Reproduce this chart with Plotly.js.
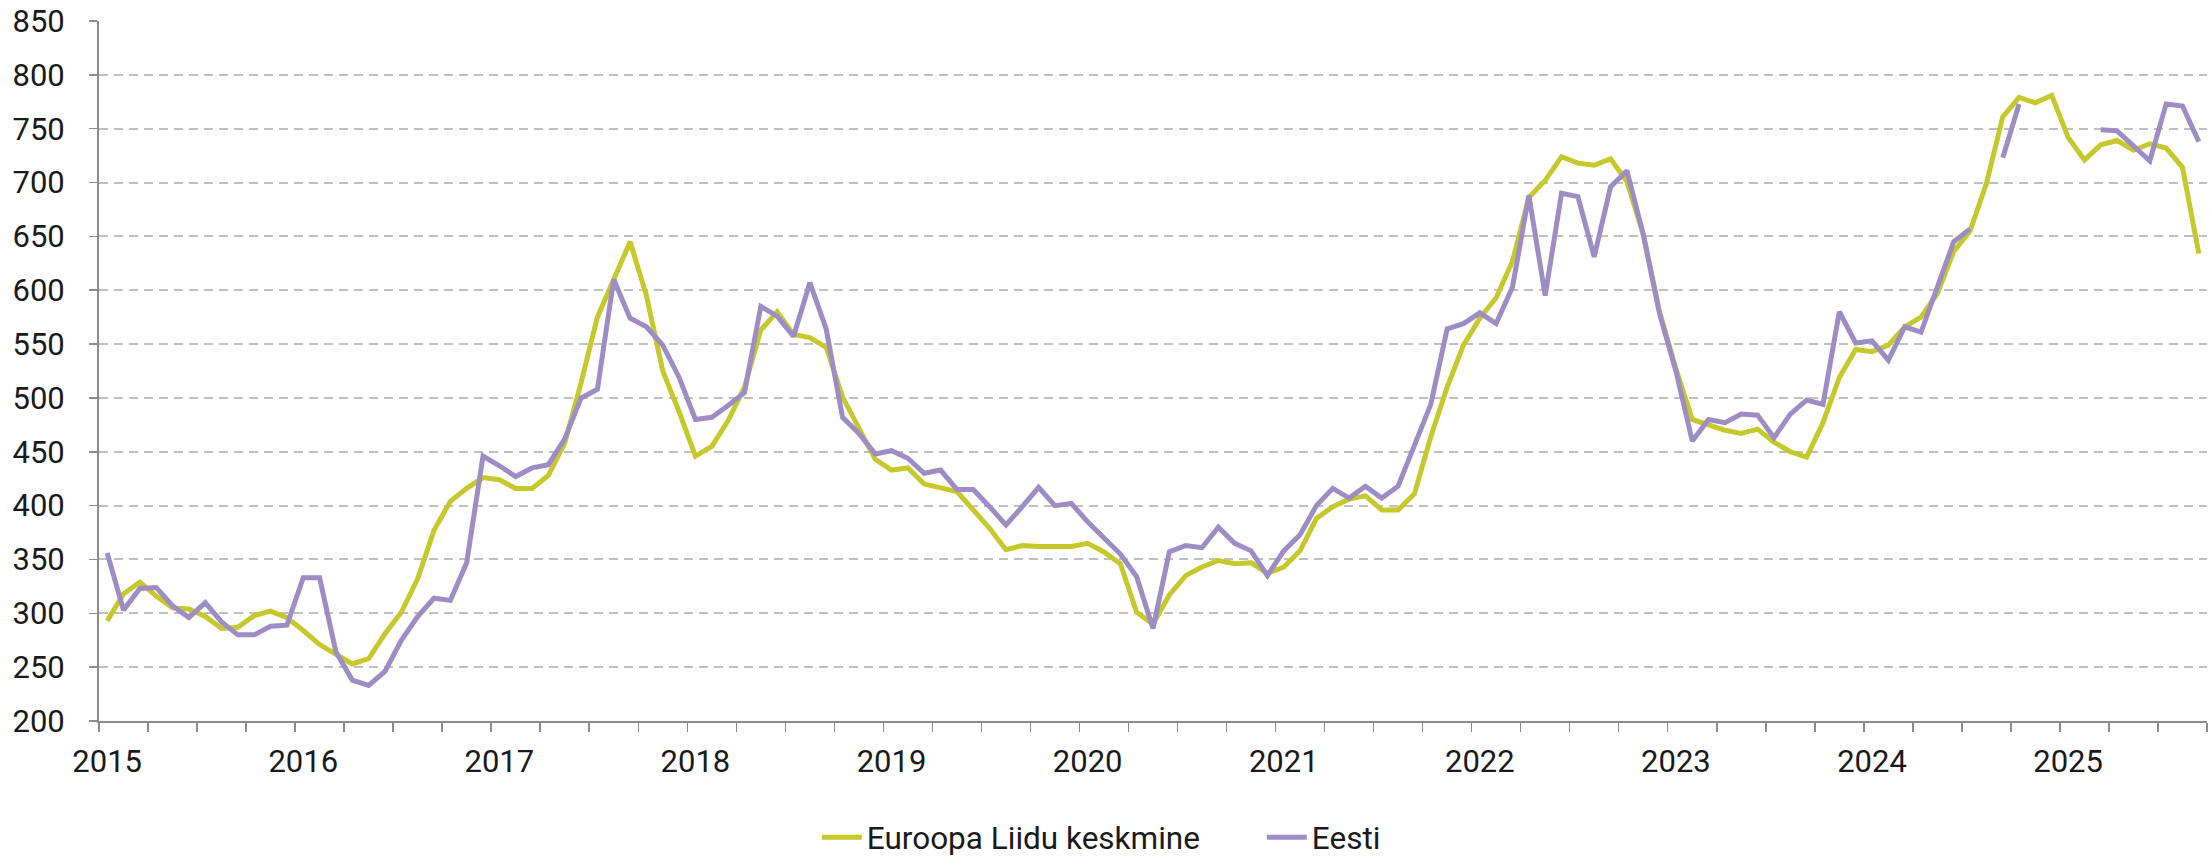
<!DOCTYPE html>
<html>
<head>
<meta charset="utf-8">
<script src="https://cdn.plot.ly/plotly-3.0.1.min.js"></script>
<style>
html,body{margin:0;padding:0;background:#fff;}
#chart{width:2210px;height:856px;}
</style>
</head>
<body>
<div id="chart"></div>
<script>
// Monthly values, January 2015 – September 2025
const years = ['2015','2016','2017','2018','2019','2020','2021','2022','2023','2024','2025'];

const euAverage = [
  293, 318, 329, 316, 305, 304, 297, 286, 287, 298, 302, 296,
  284, 271, 262, 253, 258, 281, 301, 332, 377, 404, 416, 426,
  424, 416, 416, 428, 458, 514, 575, 610, 645, 595, 525, 487,
  446, 455, 479, 510, 563, 580, 559, 556, 547, 501, 473, 443,
  433, 435, 420, 416, 413, 396, 379, 359, 363, 362, 362, 362,
  365, 357, 346, 301, 290, 317, 335, 343, 349, 346, 347, 337,
  343, 358, 388, 399, 406, 409, 396, 396, 411, 464, 510, 549,
  574, 593, 627, 686, 702, 724, 718, 716, 722, 701, 652, 580,
  527, 480, 475, 470, 467, 471, 459, 450, 445, 477, 519, 545,
  543, 549, 566, 575, 597, 636, 655, 699, 761, 779, 774, 781,
  742, 721, 735, 739, 730, 736, 732, 714, 634
];

const estonia = [
  356, 303, 323, 324, 307, 296, 310, 292, 280, 280, 288, 289,
  333, 333, 264, 238, 233, 246, 275, 297, 314, 312, 347, 446,
  437, 427, 435, 438, 462, 500, 508, 610, 574, 566, 549, 519,
  480, 482, 493, 505, 585, 576, 557, 607, 564, 482, 467, 448,
  451, 444, 430, 433, 415, 415, 399, 382, 399, 417, 400, 402,
  385, 370, 355, 334, 286, 357, 363, 361, 380, 365, 358, 335,
  358, 373, 400, 416, 407, 418, 407, 418, 456, 494, 564, 569,
  579, 569, 603, 688, 595, 690, 687, 631, 696, 711, 652, 578,
  525, 460, 480, 477, 485, 484, 463, 485, 498, 494, 580, 551,
  553, 535, 566, 561, 603, 645, 657, null, 723, 773, null, null,
  null, null, 749, 748, 734, 720, 773, 771, 738
];

const seriesNames = ['Euroopa Liidu keskmine', 'Eesti'];
const seriesColors = ['#c6c92b', '#9d8dc4'];

const monthIndex = euAverage.map((_, i) => i);
const yearTickVals = years.map((_, k) => k * 12);

const fontFamily = 'Roboto, "Noto Sans", sans-serif';
const tickFont = {family: fontFamily, size: 31, color: '#1a1a1a'};

const traces = [
  {
    x: monthIndex, y: euAverage, name: seriesNames[0], type: 'scatter', mode: 'lines',
    line: {color: seriesColors[0], width: 5, shape: 'linear'}
  },
  {
    x: monthIndex, y: estonia, name: seriesNames[1], type: 'scatter', mode: 'lines',
    connectgaps: false,
    line: {color: seriesColors[1], width: 5, shape: 'linear'}
  }
];

const layout = {
  width: 2210, height: 856,
  margin: {l: 99, r: 3, t: 21, b: 135, pad: 0, autoexpand: false},
  paper_bgcolor: '#ffffff', plot_bgcolor: '#ffffff',
  font: {family: fontFamily, size: 31, color: '#1a1a1a'},
  showlegend: true,
  legend: {
    orientation: 'h', xref: 'container', yref: 'container',
    x: 0.3696, xanchor: 'left', y: 0.022, yanchor: 'middle',
    font: {family: fontFamily, size: 31.5, color: '#1a1a1a'},
    entrywidth: 390, entrywidthmode: 'pixels',
    itemwidth: 40, traceorder: 'normal'
  },
  xaxis: {
    type: 'linear',
    range: [-0.5, monthIndex.length - 0.5],
    tickmode: 'array', tickvals: yearTickVals, ticktext: years,
    ticks: '', showgrid: false, zeroline: false,
    showline: true, linecolor: '#8c8c8c', linewidth: 2,
    tickfont: tickFont,
    ticklabelstandoff: 12,
    minor: {tickmode: 'linear', tick0: -0.5, dtick: 3, ticks: 'outside', ticklen: 9, tickwidth: 1.5, tickcolor: '#8c8c8c', showgrid: false}
  },
  yaxis: {
    range: [200, 850], tickmode: 'linear', tick0: 200, dtick: 50,
    showgrid: true, gridcolor: '#c0c0c0', gridwidth: 2, griddash: '9px,6px',
    zeroline: false, showline: true, linecolor: '#8c8c8c', linewidth: 2,
    ticks: 'outside', ticklen: 8, tickwidth: 1.5, tickcolor: '#8c8c8c',
    tickfont: tickFont,
    ticklabelstandoff: 18
  }
};

Plotly.newPlot('chart', traces, layout, {displayModeBar: false, staticPlot: true});
</script>
</body>
</html>
